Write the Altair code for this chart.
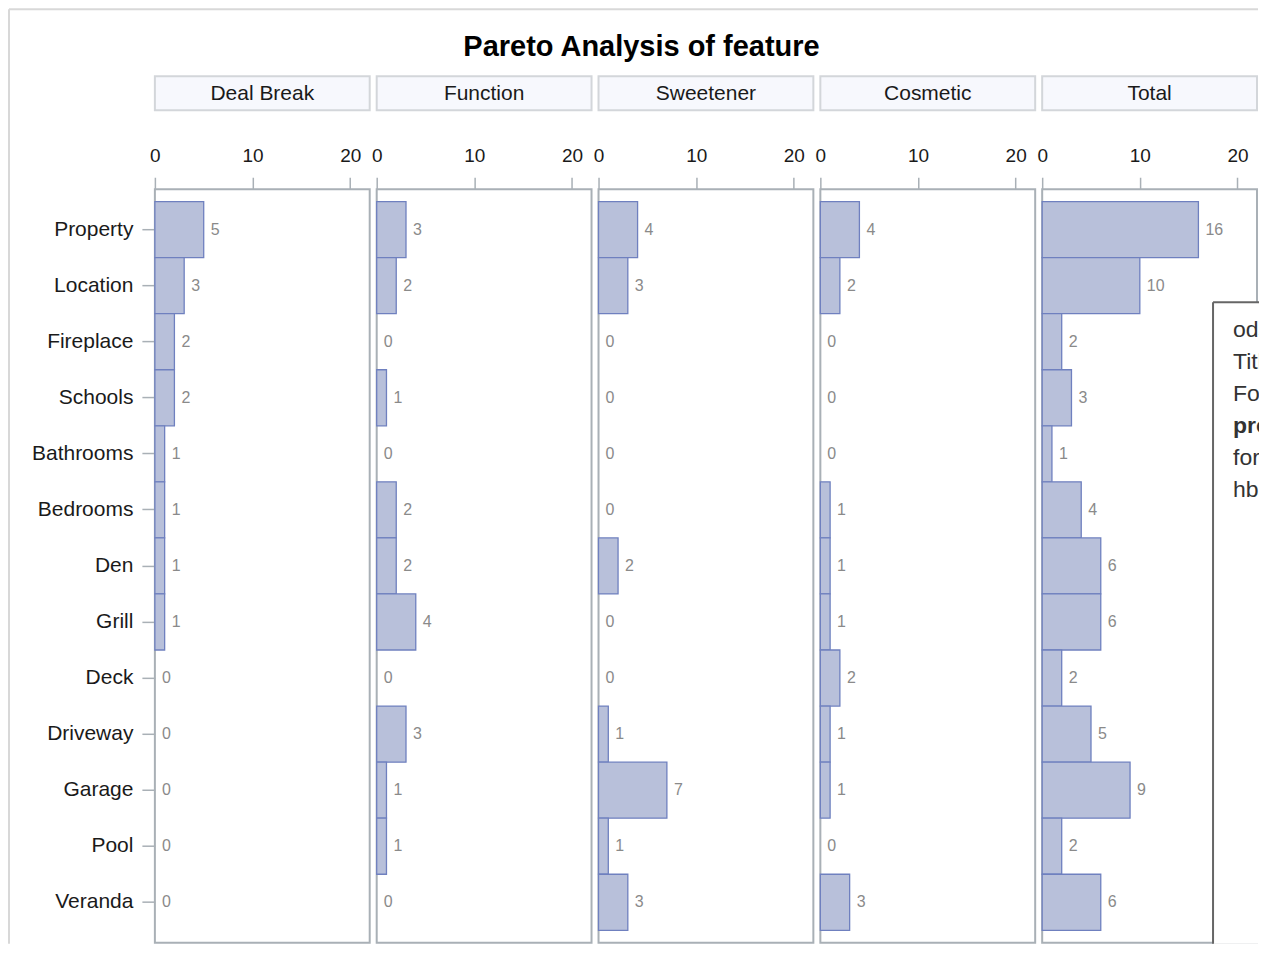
import altair as alt
import pandas as pd

features = ["Property", "Location", "Fireplace", "Schools", "Bathrooms", "Bedrooms",
            "Den", "Grill", "Deck", "Driveway", "Garage", "Pool", "Veranda"]
groups = ["Deal Break", "Function", "Sweetener", "Cosmetic", "Total"]
deal_break = [5, 3, 2, 2, 1, 1, 1, 1, 0, 0, 0, 0, 0]
function = [3, 2, 0, 1, 0, 2, 2, 4, 0, 3, 1, 1, 0]
sweetener = [4, 3, 0, 0, 0, 0, 2, 0, 0, 1, 7, 1, 3]
cosmetic = [4, 2, 0, 0, 0, 1, 1, 1, 2, 1, 1, 0, 3]
total = [16, 10, 2, 3, 1, 4, 6, 6, 2, 5, 9, 2, 6]
title_text = "Pareto Analysis of feature"
x_ticks = [0, 10, 20]
note_lines = ["ods graphics", "Title", "Footnote", "proc sgpanel", "format", "hbar"]
note_bold = [False, False, False, True, False, False]

series = [deal_break, function, sweetener, cosmetic, total]

W, H = 215, 754
VW_LAST = 217
FONT = "Liberation Sans"
FRAME = "#a9b0b6"
one = pd.DataFrame({"k": [0]})


def panel(i):
    g = groups[i]
    last = i == len(groups) - 1
    vw = VW_LAST if last else W
    df = pd.DataFrame({"feature": features, "count": series[i]})
    if i == 0:
        yaxis = alt.Axis(title=None, domain=False, ticks=True, tickSize=13, tickColor=FRAME,
                         tickWidth=1.5, labelPadding=9, labelFontSize=21, labelFont=FONT,
                         labelColor="#1a1a1a")
    else:
        yaxis = None
    y = alt.Y("feature:N", sort=features,
              scale=alt.Scale(paddingInner=0, paddingOuter=0.22), axis=yaxis)
    x = alt.X("count:Q", scale=alt.Scale(domain=[0, 22], nice=False, range=[0, W]),
              axis=alt.Axis(orient="top", values=x_ticks, title=None, domain=False,
                            grid=False, tickSize=12, tickColor=FRAME, tickWidth=1.5,
                            labelFlush=False, labelPadding=12, labelFontSize=19,
                            labelFont=FONT, labelColor="#1a1a1a", labelAngle=0))
    bars = alt.Chart(df).transform_filter("datum.count > 0").mark_bar(
        fill="#b8c0da", stroke="#6f80bf", strokeWidth=1.3).encode(x=x, y=y)
    labels = alt.Chart(df).mark_text(align="left", baseline="middle", dx=7, fontSize=16,
                                     font=FONT, color="#8a8a8a").encode(
        x="count:Q", y=alt.Y("feature:N", sort=features), text="count:Q")
    frame = alt.Chart(one).mark_rect(filled=False, stroke=FRAME, strokeWidth=2).encode(
        x=alt.value(0), x2=alt.value(W), y=alt.value(0), y2=alt.value(H))
    hdf = pd.DataFrame({"h": [g]})
    hrect = alt.Chart(hdf).mark_rect(fill="#f7f8fd", stroke="#d3d6da", strokeWidth=2).encode(
        x=alt.value(0), x2=alt.value(W), y=alt.value(-113), y2=alt.value(-79))
    htext = alt.Chart(hdf).mark_text(fontSize=21, font=FONT, color="#1a1a1a",
                                     baseline="middle").encode(
        x=alt.value(W / 2), y=alt.value(-95), text="h:N")
    layers = [frame, hrect, htext, bars, labels]
    if i == 0:
        tdf = pd.DataFrame({"t": [title_text]})
        title = alt.Chart(tdf).mark_text(fontSize=29, fontWeight="bold", font=FONT,
                                         color="#000000", baseline="middle").encode(
            x=alt.value(487), y=alt.value(-142), text="t:N")
        left_border = alt.Chart(one).mark_rule(color="#d8d8d8", strokeWidth=2).encode(
            x=alt.value(-146), y=alt.value(-180), y2=alt.value(H + 1))
        top_border = alt.Chart(one).mark_rule(color="#d8d8d8", strokeWidth=2).encode(
            x=alt.value(-146), x2=alt.value(1104), y=alt.value(-180))
        layers = [left_border, top_border, title] + layers
    if last:
        bx = 171
        box = alt.Chart(one).mark_rect(fill="white").encode(
            x=alt.value(bx), x2=alt.value(vw), y=alt.value(113), y2=alt.value(H + 1))
        bl = alt.Chart(one).mark_rule(color="#666666", strokeWidth=2).encode(
            x=alt.value(bx), y=alt.value(113), y2=alt.value(H + 1))
        bt = alt.Chart(one).mark_rule(color="#666666", strokeWidth=2).encode(
            x=alt.value(bx), x2=alt.value(vw), y=alt.value(113))
        layers = layers + [box, bl, bt]
        for r, (line, bold) in enumerate(zip(note_lines, note_bold)):
            ldf = pd.DataFrame({"line": [line]})
            layers.append(
                alt.Chart(ldf).mark_text(align="left", baseline="middle", fontSize=23,
                                         font=FONT, color="#333333", clip=True,
                                         fontWeight="bold" if bold else "normal").encode(
                    x=alt.value(bx + 20), y=alt.value(141 + 32 * r), text="line:N"))
    return alt.layer(*layers).properties(width=vw, height=H)


chart = alt.hconcat(*[panel(i) for i in range(len(groups))], spacing=7, bounds="flush").properties(
    padding=0
).configure_view(stroke=None)

chart.save("out.html", embed_options={"renderer": "svg", "actions": False})
